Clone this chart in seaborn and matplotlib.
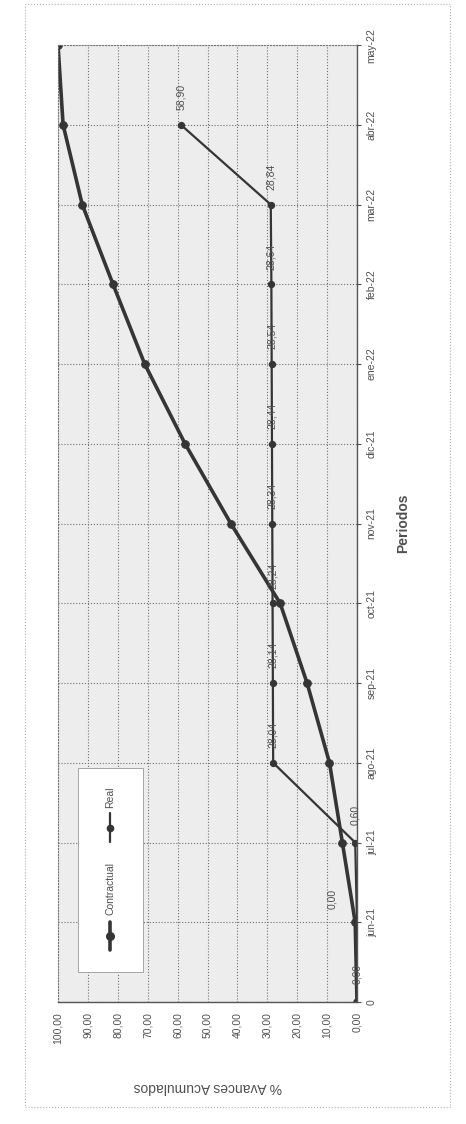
import numpy as np
import pandas as pd
import seaborn as sns
import matplotlib.pyplot as plt
from matplotlib.patches import Rectangle

periodos = ['0', 'jun-21', 'jul-21', 'ago-21', 'sep-21', 'oct-21', 'nov-21',
            'dic-21', 'ene-22', 'feb-22', 'mar-22', 'abr-22', 'may-22']
contractual = [0.00, 0.60, 4.90, 9.20, 16.70, 25.70, 42.20, 57.50, 71.00,
               81.60, 91.90, 98.30, 100.00]
real = [0.00, 0.00, 0.60, 28.04, 28.14, 28.24, 28.34, 28.44, 28.54,
        28.64, 28.84, 58.90, np.nan]
pct_ticks = [0, 10, 20, 30, 40, 50, 60, 70, 80, 90, 100]

df = pd.DataFrame({'idx': range(len(periodos)), 'periodo': periodos,
                   'Contractual': contractual, 'Real': real})


def coma(v):
    return f'{v:.2f}'.replace('.', ',')


sns.set_style('white')
plt.rcParams['font.family'] = ['Liberation Sans', 'DejaVu Sans']

line_col = '#353535'
txt_col = '#505050'

fig = plt.figure(figsize=(4.66, 11.24), dpi=100)
# outer chart frame
fig.patches.append(Rectangle((0.054, 0.015), 0.912, 0.981, transform=fig.transFigure,
                             fill=False, ec='#b0b0b0', lw=0.8, ls=':'))

# the chart is drawn turned 90 degrees, as in the scan
ax = fig.add_axes([0.1245, 0.1085, 0.6416, 0.8514])
ax.set_facecolor('#ededed')

sns.lineplot(data=df, x='Contractual', y='idx', orient='y', estimator=None,
             color=line_col, lw=2.6, marker='o', ms=5.5, mec=line_col, ax=ax)
sns.lineplot(data=df.dropna(), x='Real', y='idx', orient='y', estimator=None,
             color=line_col, lw=1.6, marker='o', ms=4.5, mec=line_col, ax=ax)

# data labels for the Real series
for i, v in zip(df['idx'], df['Real']):
    if np.isnan(v):
        continue
    off = (-18, 17) if i == 1 else (0, 20)
    ax.annotate(coma(v), (v, i), textcoords='offset points', xytext=off,
                rotation=90, ha='center', va='center', fontsize=7.5, color=txt_col)

ax.set_xlim(100, 0)
ax.set_ylim(0, len(periodos) - 1)
ax.set_xticks(pct_ticks)
ax.set_xticklabels([coma(t) for t in pct_ticks], rotation=90)
ax.set_yticks(df['idx'])
ax.set_yticklabels(periodos, rotation=90, va='center')
ax.yaxis.tick_right()
ax.yaxis.set_label_position('right')
ax.tick_params(labelsize=7.5, colors=txt_col, length=3, width=0.8, pad=4)

ax.set_xlabel('% Avances Acumulados', rotation=180, fontsize=10, color=txt_col, labelpad=26)
ax.set_ylabel('Periodos', rotation=90, fontsize=10, fontweight='bold', color=txt_col, labelpad=14)

ax.grid(True, ls=':', color='#707070', lw=0.8)
for s in ['right', 'bottom']:
    ax.spines[s].set_color('#555555')
    ax.spines[s].set_linewidth(1.0)
for s in ['left', 'top']:
    ax.spines[s].set_color('#777777')
    ax.spines[s].set_linestyle(':')

# legend box, drawn by hand because its text is turned as well
ax.add_patch(Rectangle((0.067, 0.031), 0.217, 0.214, transform=ax.transAxes,
                       fc='white', ec='#999999', lw=0.6, zorder=5))
ax.plot([0.174, 0.174], [0.054, 0.084], transform=ax.transAxes, color=line_col,
        lw=2.6, zorder=6)
ax.plot([0.174], [0.069], transform=ax.transAxes, marker='o', ms=5.5, color=line_col, zorder=6)
ax.text(0.174, 0.091, 'Contractual', transform=ax.transAxes, rotation=90,
        ha='center', va='bottom', fontsize=7.5, color=txt_col, zorder=6)
ax.plot([0.174, 0.174], [0.167, 0.198], transform=ax.transAxes, color=line_col,
        lw=1.6, zorder=6)
ax.plot([0.174], [0.182], transform=ax.transAxes, marker='o', ms=4.5, color=line_col, zorder=6)
ax.text(0.174, 0.203, 'Real', transform=ax.transAxes, rotation=90,
        ha='center', va='bottom', fontsize=7.5, color=txt_col, zorder=6)

fig.savefig('out.png', dpi=100, facecolor='white')
